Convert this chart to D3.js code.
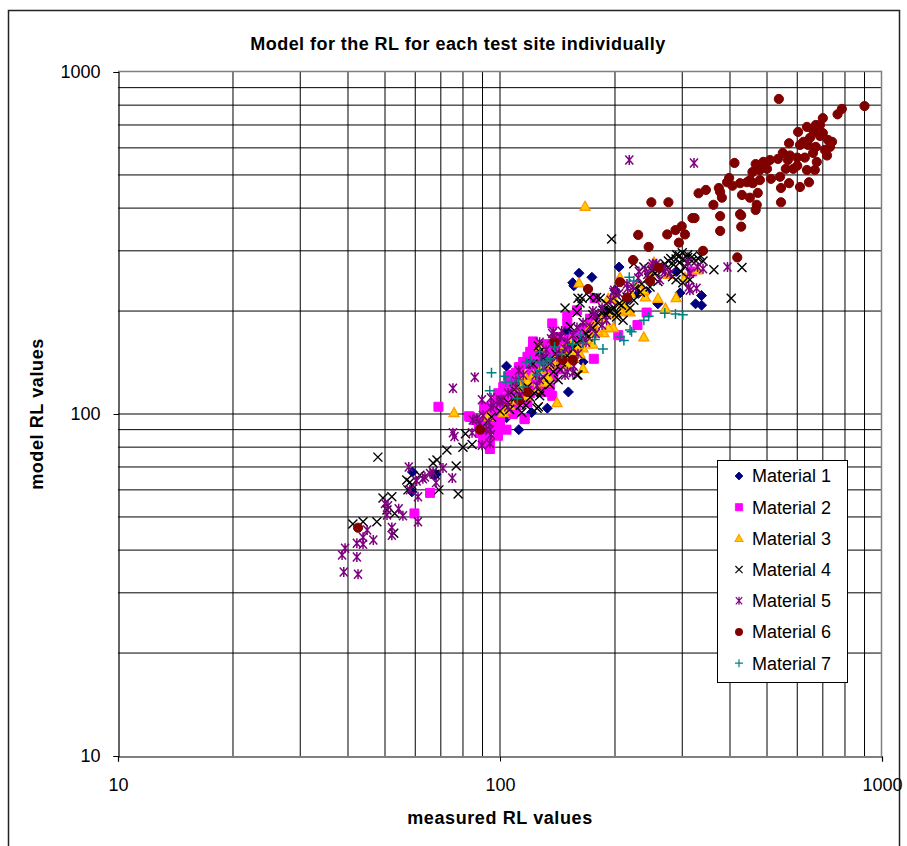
<!DOCTYPE html>
<html>
<head>
<meta charset="utf-8">
<script src="https://cdn.jsdelivr.net/npm/d3@7"></script>
<style>
  body { margin: 0; background: #fff; }
  svg { font-family: "Liberation Sans", Arial, sans-serif; }
</style>
</head>
<body>
<svg width="907" height="846"></svg>
<script>
// values: [measured, model]
const material1 = [[205,269],[161,258],[155,242],[174,251],[156,237],[296,226],[337,222],[325,210],[337,208],[289,261],
  [104,138],[151,116],[133,104],[121,101],[165,142],[242,228],[259,210],[112,90],[104,97.5],[59,67.7],[67.6,66.2],
  [58.8,59.2],[68,66.7],[120,125],[140,150],[180,190],[200,230],[150,175],[110,115],[130,140],[145,155],[160,165],
  [190,200],[215,215],[230,225]];
const material2 = [[69,105],[59.7,51.2],[65.6,58.8],[83,98.5],[91,103],[94.7,97],[97,91.5],[104,90],[98.8,86.4],[94.1,84],
  [90.2,82.3],[94.1,79],[116,96.6],[88.6,88],[150,193],[176,145],[122,163],[120,152],[113,137],[110,132],[105,129],
  [135,119],[130,116],[137,113],[116,97],[98.8,88],[91,105],[83.5,98],[121,132],[129,156],[113,120],[98.8,112],
  [104,120],[94.1,98],[151,165],[156,168],[137,184],[177,218],[242,198],[229,182],[204,170],[318,261],[159,201],
  [150,184],[122,160],[118,140],[125,145],[128,150],[132,138],[140,140],[112,125],[108,118],[102,108],[96,100],
  [105,112],[115,128],[135,148],[145,158],[155,160],[160,170],[165,175],[122,130],[118,108],[100,92],[92,88],
  [110,104],[127,122],[138,128],[148,150],[100,100],[103,105],[107,110],[110,110],[113,115],[117,118],[119,122],
  [123,127],[126,135],[129,140],[133,145],[136,152],[140,155],[126,155],[122,150],[118,147],[115,142],[112,137],
  [108,130],[106,125],[102,120],[99,115],[97,108],[95,104],[93,100],[90,95],[88,92],[86,96],[96,95],[100,96],
  [108,100],[114,110],[120,115],[128,118],[134,130],[142,135],[146,142],[152,150],[158,158],[162,162],[168,178],
  [172,190],[142,168],[132,160],[125,140]];
const material3 = [[167,405],[75.8,101],[238,168],[141,108],[165,136],[206,251],[161,242],[192,218],[198,218],[253,278],
  [276,256],[305,251],[289,219],[259,218],[271,204],[240,220],[176,182],[187,173],[198,179],[208,199],[219,199],
  [165,156],[176,172],[146,154],[127,158],[116,129],[112,120],[103,103],[102,101],[125,119],[144,149],[153,163],
  [138,141],[156,146],[93,98.5],[131,125],[329,264],[247,256],[238,230],[215,201],[172,180],[192,179],[132,124],
  [112,122],[118,125],[122,130],[128,135],[135,140],[140,145],[148,150],[155,152],[160,158],[170,165],[180,175],
  [185,190],[195,195],[210,210],[220,225],[230,240],[110,110],[106,106],[118,113],[134,128],[150,140],[162,150],[175,160]];
const material4 = [[47.9,74.8],[72.6,78.5],[80,80],[81.2,87.5],[84.5,81.5],[68.4,73.4],[66.8,71.9],[76.8,70.5],[67.6,66.7],
  [57,64.1],[58.1,63.2],[57.4,60],[58.8,62],[61.7,66.2],[69.2,60],[77.7,58.4],[49.4,56.8],[52.1,57.3],[50.6,52.4],
  [53,51.2],[47.6,48.4],[43.8,48.4],[41.2,47.7],[52.7,44.8],[148,204],[162,211],[159,198],[127,152],[144,135],
  [159,130],[113,106],[117,106],[126,105],[127,113],[109,118],[114,101],[196,325],[160,218],[164,218],[172,219],
  [179,219],[165,185],[185,197],[192,201],[202,197],[210,188],[219,204],[224,275],[238,269],[276,280],[289,284],
  [301,284],[310,287],[326,280],[340,280],[318,280],[298,261],[289,247],[301,242],[314,247],[283,252],[363,264],
  [430,268],[403,218],[153,180],[144,168],[170,168],[159,161],[126,158],[142,126],[160,130],[123,115],[106,103],
  [125,104],[224,215],[233,227],[247,235],[259,244],[202,222],[208,208],[186,201],[198,205],[183,218],[202,192],
  [270,275],[280,285],[295,290],[305,270],[260,270],[250,262],[190,210],[175,195],[140,150],[135,140],[118,120],
  [130,128],[110,112],[115,116],[120,112],[128,116],[135,122],[138,133],[145,142],[150,148],[155,155],[162,165],
  [168,172],[175,178],[180,185],[190,195],[195,200],[205,210],[215,220],[225,232],[235,240],[245,250],[255,258],
  [265,262],[275,268],[285,273],[295,277],[318,288],[330,285],[335,290],[290,292],[300,296],[310,292],[122,140],
  [130,145],[100,102],[105,108],[95,98],[90,92]];
const material5 = [[218,553],[322,542],[76,86],[57.7,70],[65.6,67],[63.6,65.4],[66.8,67.7],[68,63],[75,65],[60.5,63.7],
  [62.8,64.7],[61,57.3],[58.1,60],[50,54.7],[50.9,53.9],[50.6,50.7],[54.3,52.8],[55.7,50.4],[61,48.4],[52.1,46.6],
  [52.1,44.2],[44.9,45.8],[43.8,43.6],[42.2,41.9],[43.8,41.6],[46.6,42.8],[39.3,40.5],[38.6,38.7],[42.2,38.2],
  [39,34.5],[42.5,34],[70.9,69.5],[75.3,119],[89.7,110],[88.6,94],[84.9,96],[92,90],[89.7,81],[94.1,82],[100,110],
  [94.7,87],[85.9,128],[94.7,111.5],[101,110],[138,174],[136,166],[150,163],[156,138],[155,132],[148,130],[127,126],
  [94.7,104.5],[90.2,99],[87,97],[93.6,94.4],[94.1,90],[75.3,88.2],[84.5,88.2],[144,168],[159,179],[172,180],
  [185,182],[198,227],[223,235],[243,256],[251,275],[266,267],[279,258],[314,230],[327,233],[314,258],[329,269],
  [340,266],[394,269],[199,230],[231,261],[257,275],[270,261],[310,278],[312,235],[216,233],[262,247],[127,162],
  [132,154],[141,147],[150,133],[112,134],[125,121],[137,172],[165,165],[175,200],[145,175],[120,140],[110,120],
  [105,115],[105,105],[112,112],[118,117],[124,130],[130,137],[136,142],[143,150],[148,155],[155,170],[165,185],
  [178,195],[185,205],[195,215],[205,225],[215,240],[230,250],[240,265],[250,270],[100,108],[96,106],[110,125],
  [115,130],[128,145],[140,160],[152,158],[160,150],[168,162],[178,172],[190,188]];
const material6 = [[537,834],[900,795],[785,780],[765,752],[700,733],[671,700],[688,700],[660,677],[675,668],[700,663],
  [722,633],[740,625],[688,650],[648,642],[636,691],[603,668],[571,619],[623,625],[640,612],[610,612],[671,604],
  [708,592],[731,604],[718,570],[550,580],[574,570],[600,562],[628,562],[660,580],[534,557],[567,553],[509,553],
  [489,546],[467,538],[600,532],[586,521],[636,517],[667,517],[675,546],[560,521],[500,521],[479,517],[458,510],
  [411,542],[541,494],[512,487],[479,483],[451,483],[443,476],[459,473],[425,473],[398,490],[393,476],[406,465],
  [374,458],[377,446],[381,429],[346,452],[331,442],[362,409],[430,437],[451,429],[473,443],[544,458],[571,473],
  [610,461],[644,476],[544,416],[470,409],[467,395],[377,379],[425,384],[319,374],[323,374],[299,354],[288,345],
  [274,335],[305,335],[294,317],[377,343],[428,381],[428,353],[249,416],[276,416],[245,308],[340,300],[418,287],
  [230,334],[223,282],[206,243],[247,245],[170,232],[215,219],[260,268],[146,144],[155,144],[139,162],[118,116],
  [112,110],[88.6,90],[42.5,46.5]];
const material7 = [[95,132],[94,117],[103,129],[103.5,124],[107,124],[120,143],[127,142],[127,134],[133,143],[139,157],
  [111,111],[162,170],[165,161],[177,165],[186,155],[211,164],[219,176],[238,188],[245,193],[270,197],[288,196],
  [301,195],[218,251],[224,245],[117,142],[112,126],[221,174],[206,168],[127,152],[115,120],[125,130],[135,145],
  [145,150],[155,160],[130,140]];

const seriesNames = ["Material 1","Material 2","Material 3","Material 4","Material 5","Material 6","Material 7"];
const seriesData = [material1, material2, material3, material4, material5, material6, material7];
const tickValues = [10, 100, 1000];

const svg = d3.select("svg");

const x = d3.scaleLog().domain([10, 1000]).range([118, 882]);
const y = d3.scaleLog().domain([10, 1000]).range([756, 72]);

// chart frame
svg.append("rect")
  .attr("x", 8.5).attr("y", 10.5)
  .attr("width", 891).attr("height", 850)
  .attr("fill", "#fff").attr("stroke", "#222").attr("stroke-width", 1.5);

// gridlines at every 1..9 of each decade
const gridVals = [];
[10, 100].forEach(d => { for (let k = 2; k <= 10; k++) gridVals.push(d * k); });

const grid = svg.append("g");
grid.selectAll("line.v")
  .data(gridVals.filter(v => v < 1000))
  .join("line")
  .attr("x1", d => x(d)).attr("x2", d => x(d))
  .attr("y1", 72).attr("y2", 756)
  .attr("stroke", "#000").attr("stroke-width", 1);
grid.selectAll("line.h")
  .data(gridVals.filter(v => v < 1000))
  .join("line")
  .attr("y1", d => y(d)).attr("y2", d => y(d))
  .attr("x1", 118).attr("x2", 882)
  .attr("stroke", "#000").attr("stroke-width", 1);

// plot area top / right border
svg.append("path")
  .attr("d", `M118,71.5H881.5V756`)
  .attr("fill", "none").attr("stroke", "#808080").attr("stroke-width", 1.5);

// axes
const xAxis = svg.append("g").attr("transform", "translate(0,756.5)")
  .call(d3.axisBottom(x).tickValues(tickValues).tickFormat(d3.format("d")).tickSize(5).tickPadding(17));
const yAxis = svg.append("g").attr("transform", "translate(118.5,0)")
  .call(d3.axisLeft(y).tickValues(tickValues).tickFormat(d3.format("d")).tickSize(5).tickPadding(13));
[xAxis, yAxis].forEach(a => {
  a.select(".domain").attr("stroke", "#000").attr("stroke-width", 1.2);
  a.selectAll(".tick line").attr("stroke", "#000");
  a.selectAll(".tick text").attr("font-size", 18).attr("fill", "#000")
    .attr("font-family", "Liberation Sans, Arial, sans-serif");
});

// marker shapes
const shapes = [
  () => "M0,-5L5,0L0,5L-5,0Z",
  () => "M-4.5,-4.5H4.5V4.5H-4.5Z",
  () => "M0,-5L5,4H-5Z",
  () => "M-4.5,-4.5L4.5,4.5M-4.5,4.5L4.5,-4.5",
  () => "M-4,-4.5L4,4.5M-4,4.5L4,-4.5M0,-5V5",
  () => "M0,0m-4.6,0a4.6,4.6 0 1,0 9.2,0a4.6,4.6 0 1,0 -9.2,0",
  () => "M-5,0H5M0,-5V5"
];
const fills = ["#000080", "#FF00FF", "#FFCC00", "none", "none", "#800000", "none"];
const strokes = ["#000080", "#FF00FF", "#FF9900", "#000", "#800080", "#800000", "#008080"];
const strokeW = [1, 1, 1.3, 1.4, 1.5, 1, 1.5];

seriesData.forEach((data, i) => {
  svg.append("g")
    .selectAll("path")
    .data(data)
    .join("path")
    .attr("transform", d => `translate(${x(d[0])},${y(d[1])})`)
    .attr("d", shapes[i])
    .attr("fill", fills[i])
    .attr("stroke", strokes[i])
    .attr("stroke-width", strokeW[i]);
});

// legend
const legend = svg.append("g");
legend.append("rect")
  .attr("x", 717.5).attr("y", 460.5)
  .attr("width", 130).attr("height", 222)
  .attr("fill", "#fff").attr("stroke", "#000").attr("stroke-width", 1);
const rows = legend.selectAll("g.row")
  .data(seriesNames)
  .join("g")
  .attr("transform", (d, i) => `translate(739,${476 + i * 31.2})`);
rows.append("path")
  .attr("d", (d, i) => shapes[i]())
  .attr("transform", "scale(0.8)")
  .attr("fill", (d, i) => fills[i])
  .attr("stroke", (d, i) => strokes[i])
  .attr("stroke-width", (d, i) => strokeW[i]);
rows.append("text")
  .attr("x", 13).attr("dy", "0.35em")
  .attr("font-size", 18)
  .text(d => d);

// titles
svg.append("text")
  .attr("x", 458).attr("y", 50)
  .attr("text-anchor", "middle")
  .attr("font-size", 18).attr("font-weight", "bold")
  .attr("letter-spacing", 0.45)
  .text("Model for the RL for each test site individually");

svg.append("text")
  .attr("x", 500).attr("y", 824)
  .attr("text-anchor", "middle")
  .attr("font-size", 18).attr("font-weight", "bold")
  .attr("letter-spacing", 0.6)
  .text("measured RL values");

svg.append("text")
  .attr("transform", "translate(43,414) rotate(-90)")
  .attr("text-anchor", "middle")
  .attr("font-size", 18).attr("font-weight", "bold")
  .attr("letter-spacing", 0.6)
  .text("model RL values");
</script>
</body>
</html>
